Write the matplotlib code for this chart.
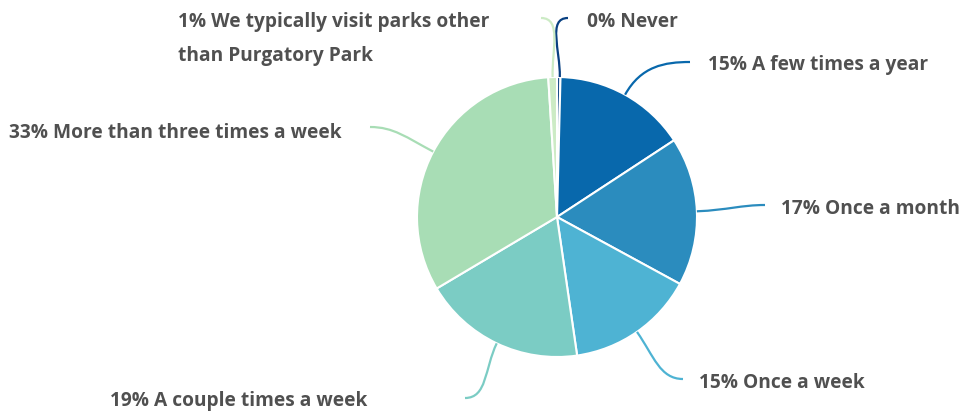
import numpy as np
import matplotlib.pyplot as plt
from matplotlib.path import Path
from matplotlib.patches import PathPatch

# survey answers, clockwise from 12 o'clock
categories = ['Never', 'A few times a year', 'Once a month', 'Once a week',
              'A couple times a week', 'More than three times a week',
              'We typically visit parks other\nthan Purgatory Park']
values = [0.4, 15.4, 17.2, 14.8, 18.8, 32.6, 1.0]
pct_labels = ['0%', '15%', '17%', '15%', '19%', '33%', '1%']
colors = ['#084081', '#0868ac', '#2b8cbe', '#4eb3d3', '#7bccc4', '#a8ddb5', '#ccebc5']

W, H = 965, 412
fig = plt.figure(figsize=(W / 100, H / 100), dpi=100)
ax = fig.add_axes([0, 0, 1, 1])

cx, cy, r = 557, H - 217, 140
wedges, _ = ax.pie(values, startangle=90, counterclock=False, colors=colors,
                   radius=r, center=(cx, cy), frame=True,
                   wedgeprops=dict(edgecolor='white', linewidth=1.5))
ax.set_xlim(0, W)
ax.set_ylim(0, H)
ax.set_aspect('equal')
ax.axis('off')

# label layout: (line end x, line end y from top, text x, text y, ha)
layout = [
    (568, 18, 587, 22, 'left'),
    (690, 62, 708, 65, 'left'),
    (765, 205, 781, 209, 'left'),
    (683, 379, 699, 383, 'left'),
    (465, 398, 367, 401, 'right'),
    (370, 127, 342, 133, 'right'),
    (541, 18, 178, 39, 'left'),
]

txt = '#505050'
for w, col, cat, pct, (ex, ey, tx, ty, ha) in zip(wedges, colors, categories, pct_labels, layout):
    a = np.deg2rad((w.theta1 + w.theta2) / 2)
    if cat == 'Never':
        a = np.deg2rad(w.theta1 + 0.2 * (w.theta2 - w.theta1))
    d = np.array([np.cos(a), np.sin(a)])
    p0 = np.array([cx, cy]) + r * d
    p3 = np.array([ex, H - ey])
    dist = np.linalg.norm(p3 - p0)
    p1 = p0 + d * dist * 0.45
    side = 1 if ex > cx else -1
    p2 = p3 - np.array([side, 0]) * dist * 0.35
    path = Path([p0, p1, p2, p3], [Path.MOVETO, Path.CURVE4, Path.CURVE4, Path.CURVE4])
    ax.add_patch(PathPatch(path, fc='none', ec=col, lw=1.6))
    ax.text(tx, H - ty, f'{pct} {cat}', ha=ha, va='center', fontsize=13.8,
            fontweight='bold', family='Open Sans', color=txt, linespacing=1.9)

fig.savefig('out.png', dpi=100)
